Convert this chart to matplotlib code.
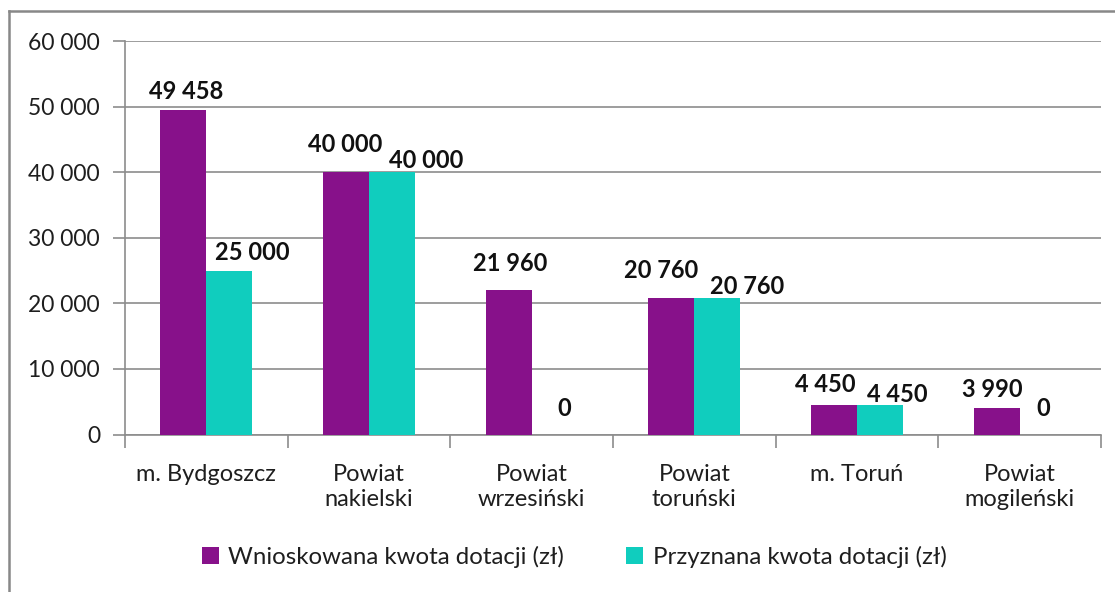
import matplotlib.pyplot as plt
import numpy as np
from matplotlib.lines import Line2D
from matplotlib.patches import Patch

plt.rcParams['font.family'] = ['Lato', 'DejaVu Sans']

# Data
categories = ['m. Bydgoszcz', 'Powiat\nnakielski', 'Powiat\nwrzesiński',
              'Powiat\ntoruński', 'm. Toruń', 'Powiat\nmogileński']
requested = [49458, 40000, 21960, 20760, 4450, 3990]
granted = [25000, 40000, 0, 20760, 4450, 0]
series_names = ['Wnioskowana kwota dotacji (zł)', 'Przyznana kwota dotacji (zł)']

colors = {'requested': '#87118A', 'granted': '#10CDBE'}

# label offsets in pixels (dx, dy) relative to the top of each bar
req_offsets = [(3, 11), (-1, 20), (2, 19), (-10, 20), (-9, 13), (-4, 11)]
gra_offsets = [(23, 11), (34, 4), (10, 18), (30, 4), (17, 3), (1, 18)]


def fmt(v):
    return f"{v:,}".replace(',', ' ')


fig = plt.figure(figsize=(11.15, 5.92), dpi=100)
ax = fig.add_axes([125 / 1115, 1 - 434.5 / 592, (1101 - 125) / 1115, (434.5 - 41) / 592])

x = np.arange(len(categories))
w = 0.283
ax.bar(x - w / 2, requested, w, color=colors['requested'], zorder=3)
ax.bar(x + w / 2, granted, w, color=colors['granted'], zorder=3)

for i, v in enumerate(requested):
    ax.annotate(fmt(v), (x[i] - w / 2, v), xytext=req_offsets[i], textcoords='offset pixels',
                ha='center', va='baseline', fontsize=17, fontweight='bold', color='#111111')
for i, v in enumerate(granted):
    ax.annotate(fmt(v), (x[i] + w / 2, v), xytext=gra_offsets[i], textcoords='offset pixels',
                ha='center', va='baseline', fontsize=17, fontweight='bold', color='#111111')

ax.set_xlim(-0.5, len(categories) - 0.5)
ax.set_ylim(0, 60000)
ax.set_yticks(np.arange(0, 60001, 10000))
ax.set_yticklabels([fmt(v) for v in range(0, 60001, 10000)])
ax.yaxis.grid(True, color='#8c8c8c', linewidth=1.2, zorder=0)
ax.set_axisbelow(True)

# category ticks between groups, labels at centers
ax.set_xticks(np.arange(-0.5, len(categories), 1.0))
ax.set_xticklabels([])
ax.set_xticks(x, minor=True)
ax.set_xticklabels(categories, minor=True, fontsize=17, color='#1e1e1e', linespacing=1.25)
ax.tick_params(axis='x', which='minor', length=0, pad=21)
ax.tick_params(axis='x', which='major', length=9, color='#8c8c8c', width=1.2)
ax.tick_params(axis='y', length=9, color='#8c8c8c', width=1.2, labelsize=16.5,
               labelcolor='#1e1e1e', pad=9)

for s in ['top', 'right']:
    ax.spines[s].set_visible(False)
ax.spines['left'].set_color('#8c8c8c')
ax.spines['bottom'].set_color('#8c8c8c')
ax.spines['left'].set_linewidth(1.2)
ax.spines['bottom'].set_linewidth(1.2)

handles = [Patch(facecolor=colors['requested'], label=series_names[0]),
           Patch(facecolor=colors['granted'], label=series_names[1])]
fig.legend(handles=handles, loc='center', bbox_to_anchor=(0.515, 1 - 557 / 592), ncol=2,
           frameon=False, fontsize=17.3, handlelength=0.7, handleheight=0.7,
           handletextpad=0.4, columnspacing=2.6, labelcolor='#1e1e1e')

# outer frame (left and top edges visible)
fig.add_artist(Line2D([9 / 1115, 9 / 1115], [0, 1 - 11 / 592], color='#888888', linewidth=1.8,
                      transform=fig.transFigure))
fig.add_artist(Line2D([9 / 1115, 1], [1 - 11 / 592, 1 - 11 / 592], color='#888888', linewidth=1.8,
                      transform=fig.transFigure))

plt.savefig('out.png', dpi=100)
